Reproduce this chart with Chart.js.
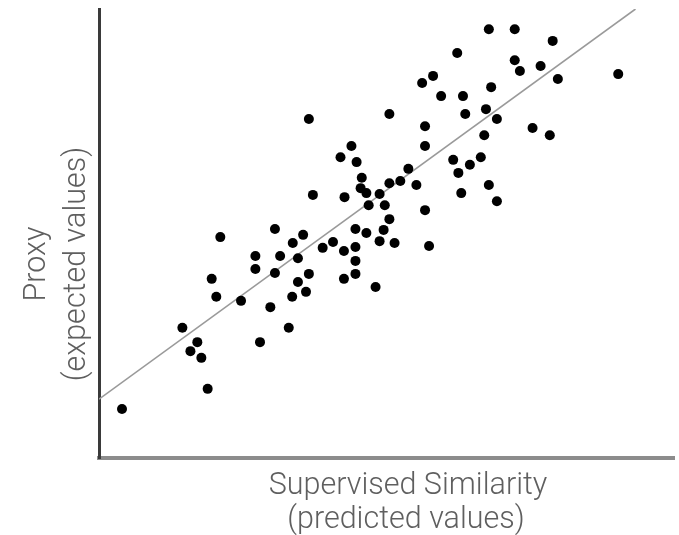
<!DOCTYPE html>
<html>
<head>
<meta charset="utf-8">
<script src="https://cdn.jsdelivr.net/npm/chart.js@4.4.1/dist/chart.umd.min.js"></script>
<style>
  html, body { margin: 0; padding: 0; background: #fff; }
</style>
</head>
<body>
<canvas id="myChart" width="679" height="535"></canvas>
<script>
// DATA (arbitrary 0-100 units, axes carry no ticks)
const simX = [4.0, 18.9, 14.5, 17.1, 15.9, 17.8, 19.6, 20.4, 21.1, 24.7, 27.2, 27.2, 28.0, 29.8, 30.6, 31.5, 30.6,
    33.0, 33.6, 33.7, 34.6, 34.6, 35.5, 36.0, 36.5, 38.9, 40.7, 42.6, 42.6, 44.6, 44.6, 44.6, 44.6, 46.5, 48.1,
    48.8, 49.5, 51.4, 57.4, 36.5, 43.9, 42.0, 44.8, 45.7, 45.5, 46.5, 48.8, 37.2, 42.7, 46.9, 67.8, 72.3, 78.9,
    62.3, 72.3, 76.8, 73.2, 90.3, 79.8, 58.1, 56.2, 59.5, 63.3, 68.2, 50.5, 63.7, 67.3, 69.2, 75.4, 78.4, 56.7,
    56.7, 67.0, 61.6, 64.5, 66.4, 62.5, 67.8, 63.0, 69.2, 53.8, 52.4, 50.5, 55.2, 49.7, 50.5, 56.7];
const proxyY = [10.9, 15.4, 29.0, 25.8, 23.8, 22.3, 39.9, 35.9, 49.2, 35.0, 45.0, 42.1, 25.8, 33.6, 51.0, 45.0, 41.2,
    29.0, 35.9, 47.9, 44.5, 39.2, 49.7, 37.0, 41.0, 46.8, 48.1, 46.1, 39.9, 51.0, 47.0, 43.9, 41.0, 50.1, 38.1,
    48.3, 50.8, 47.9, 47.2, 75.5, 69.5, 67.0, 65.9, 62.4, 60.1, 59.0, 58.8, 58.6, 58.1, 56.3, 95.5, 95.5, 92.9,
    90.2, 88.6, 87.3, 86.2, 85.5, 84.4, 85.1, 83.5, 80.6, 80.6, 82.6, 76.6, 76.6, 77.7, 75.5, 73.5, 71.9, 73.9,
    69.5, 71.9, 66.4, 65.3, 67.0, 63.5, 60.8, 59.0, 57.2, 64.4, 61.7, 61.2, 60.8, 56.3, 53.2, 55.2];
// least-squares line, two ends
const fitX = [0, 93.3];
const fitY = [13.1, 100];
const xTitle = ['Supervised Similarity', '(predicted values)'];
const yTitle = ['Proxy', '(expected values)'];

const TITLE_FONT = '300 30.5px Roboto';

// axis titles sit a bit off-centre in the original, so draw them ourselves
const axisTitles = {
    id: 'axisTitles',
    afterDraw(chart) {
        const ctx = chart.ctx;
        const area = chart.chartArea;
        ctx.save();
        ctx.fillStyle = '#5f5f5f';
        ctx.font = TITLE_FONT;
        ctx.textAlign = 'center';
        ctx.textBaseline = 'alphabetic';
        const cx = area.left + 309;
        ctx.fillText(xTitle[0], cx, area.bottom + 36);
        ctx.fillText(xTitle[1], cx - 2, area.bottom + 70);

        ctx.translate(0, area.top + 255);
        ctx.rotate(-Math.PI / 2);
        ctx.fillText(yTitle[0], 0, 45);
        ctx.fillText(yTitle[1], 0, 85);
        ctx.restore();
    }
};

new Chart(document.getElementById('myChart'), {
    type: 'scatter',
    data: {
        datasets: [
            {
                label: 'fit',
                type: 'line',
                data: fitX.map((x, i) => ({ x: x, y: fitY[i] })),
                borderColor: '#9a9a9a',
                borderWidth: 1.6,
                pointRadius: 0,
                fill: false,
                order: 2
            },
            {
                label: 'points',
                data: simX.map((x, i) => ({ x: x, y: proxyY[i] })),
                backgroundColor: '#000',
                borderColor: '#000',
                borderWidth: 0,
                pointRadius: 5,
                pointHoverRadius: 5,
                order: 1
            }
        ]
    },
    options: {
        responsive: false,
        animation: false,
        devicePixelRatio: 1,
        layout: { padding: { left: 99, top: 9, right: 2, bottom: 77 } },
        plugins: { legend: { display: false }, tooltip: { enabled: false } },
        scales: {
            x: {
                type: 'linear', min: 0, max: 100,
                ticks: { display: false },
                grid: { display: false, drawTicks: false },
                border: { display: true, color: '#8c8c8c', width: 4 }
            },
            y: {
                type: 'linear', min: 0, max: 100,
                ticks: { display: false },
                grid: { display: false, drawTicks: false },
                border: { display: true, color: '#3a3a3a', width: 3 }
            }
        }
    },
    plugins: [axisTitles]
});
</script>
</body>
</html>
